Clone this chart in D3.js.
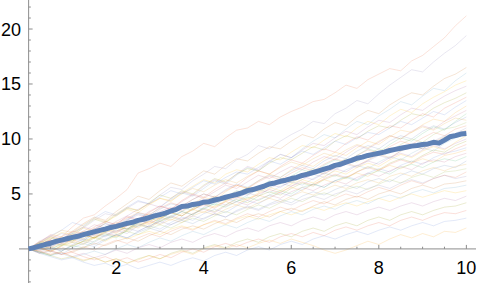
<!DOCTYPE html>
<html>
<head>
<meta charset="utf-8">
<script src="https://cdn.jsdelivr.net/npm/d3@7"></script>
<style>
  body { margin: 0; background: #fff; }
  text { font-family: "Liberation Sans", Arial, sans-serif; }
</style>
</head>
<body>
<div id="vis"></div>
<script>
// frame
const WIDTH = 482;
const HEIGHT = 289;
const T_MAX = 10;

// faint sample paths, one value every 0.25 from t = 0 to 10
const PATHS = [
  [0,0.6,1.3,1.1,2.0,2.8,3.1,3.9,4.6,5.4,6.9,7.3,7.8,7.5,8.4,8.9,9.6,9.3,10.1,10.8,11.0,11.6,11.3,12.0,12.5,12.9,13.4,13.6,14.2,14.9,14.6,15.4,15.9,16.4,16.2,17.1,17.6,18.4,19.2,20.3,21.2],
  [0,0.3,0.9,1.4,1.2,1.9,2.6,3.2,3.0,3.7,4.3,4.1,4.9,5.6,5.4,6.2,6.8,7.5,7.3,8.1,8.6,9.4,9.1,9.8,10.4,10.9,11.6,11.4,12.3,12.8,13.5,13.2,14.1,14.9,15.6,16.3,16.1,17.0,17.8,18.5,19.4],
  [0,0.5,1.1,0.8,1.6,2.3,2.9,2.6,3.4,4.1,4.8,4.5,5.3,6.0,5.7,6.4,7.1,6.8,7.6,8.2,8.0,8.7,9.3,9.1,9.8,10.4,10.1,10.9,11.5,11.2,12.0,12.6,12.3,13.1,13.7,14.2,14.0,14.8,15.5,15.9,16.5],
  [0,0.2,-0.1,0.5,0.9,0.7,1.5,2.1,1.9,2.6,3.3,3.0,3.8,4.5,5.1,4.8,5.5,6.2,5.9,6.7,7.4,7.1,7.9,8.6,8.3,9.1,9.8,10.4,10.1,10.9,11.6,11.3,12.1,12.7,13.4,13.1,13.9,14.6,14.4,15.3,16.0],
  [0,0.4,0.9,1.5,1.3,1.9,1.6,2.4,3.0,3.6,3.3,4.0,4.6,4.3,5.1,5.7,6.3,6.0,6.8,7.2,7.0,7.7,8.3,8.1,8.8,9.4,9.2,9.9,10.5,10.2,11.0,11.6,11.3,12.1,12.7,12.4,13.2,13.8,14.3,14.9,15.3],
  [0,0.3,0.1,0.7,1.3,1.1,1.8,2.5,2.2,3.0,3.6,4.1,3.8,4.6,5.2,4.9,5.7,6.3,6.0,6.8,7.5,7.2,8.0,8.6,8.3,9.0,9.6,9.4,10.1,10.7,10.4,11.1,11.7,11.5,12.2,12.8,12.6,13.3,13.9,14.4,14.8],
  [0,0.5,1.0,0.8,1.4,2.0,2.7,2.4,3.1,3.7,3.5,4.2,4.9,4.6,5.3,5.0,5.8,6.4,6.1,6.8,7.3,7.1,7.8,8.3,8.1,8.7,9.3,9.0,9.8,10.3,10.0,10.7,11.2,11.0,11.7,12.3,12.1,12.8,13.3,13.7,14.2],
  [0,-0.2,0.3,0.8,0.6,1.2,1.9,1.6,2.3,2.9,2.6,3.3,3.9,3.6,4.4,5.0,4.7,5.4,6.0,5.7,6.5,7.1,6.8,7.5,8.1,7.8,8.5,9.1,8.8,9.6,10.2,9.9,10.6,11.2,11.0,11.7,12.3,12.0,12.8,13.3,13.8],
  [0,0.6,1.2,1.7,2.4,2.1,2.8,3.4,3.1,3.8,4.4,4.1,4.7,5.3,5.0,5.6,6.2,5.9,6.5,7.0,6.8,7.4,8.0,7.7,8.3,8.9,8.6,9.2,9.8,9.5,10.1,10.6,10.4,11.0,11.6,11.3,11.9,12.5,12.2,12.9,13.5],
  [0,0.1,-0.3,0.3,0.8,0.5,1.1,1.7,1.4,2.1,2.7,2.4,3.1,3.7,3.4,4.1,4.7,4.4,5.2,5.8,5.5,6.2,6.8,6.5,7.2,7.8,7.5,8.2,8.8,8.5,9.2,9.8,9.5,10.2,10.8,10.6,11.3,11.8,11.6,12.4,13.0],
  [0,0.4,0.8,0.5,1.1,1.6,2.2,1.9,2.5,3.0,2.7,3.4,3.9,3.6,4.3,4.9,4.6,5.2,5.8,5.5,6.1,6.7,6.4,7.0,7.5,7.2,7.9,8.4,8.1,8.8,9.4,9.1,9.7,10.3,10.0,10.7,11.2,10.9,11.6,12.1,12.6],
  [0,-0.3,-0.6,-0.2,0.3,0.1,0.7,1.3,1.0,1.7,2.3,2.0,2.7,3.3,3.0,3.7,4.3,4.0,4.7,5.3,5.0,5.6,6.2,5.9,6.6,7.2,6.9,7.6,8.1,7.8,8.5,9.1,8.8,9.5,10.1,9.8,10.5,11.1,10.8,11.6,12.3],
  [0,0.5,0.3,0.9,1.4,1.2,1.8,2.3,2.1,2.7,3.2,2.9,3.6,4.1,3.9,4.5,5.0,4.7,5.4,5.9,5.6,6.2,6.7,6.5,7.1,7.6,7.3,8.0,8.5,8.2,8.9,9.4,9.1,9.8,10.3,10.0,10.7,11.2,10.9,11.5,12.0],
  [0,0.6,1.1,1.7,1.5,2.2,2.8,2.5,3.2,3.8,3.5,4.1,4.6,4.4,5.0,5.5,5.2,5.8,6.3,6.0,6.6,7.1,6.8,7.4,7.9,7.6,8.2,8.7,8.4,9.0,9.5,9.2,9.8,10.3,10.0,10.6,11.1,10.8,11.4,11.9,11.7],
  [0,0.2,0.6,0.3,0.9,1.3,1.0,1.6,2.1,1.8,2.5,3.0,2.7,3.3,3.8,3.5,4.2,4.7,4.4,5.1,5.6,5.3,5.9,6.4,6.1,6.8,7.3,7.0,7.7,8.2,7.9,8.6,9.1,8.8,9.5,10.0,9.7,10.4,10.9,11.1,11.5],
  [0,0.7,0.5,1.1,1.6,1.4,2.0,2.5,2.2,2.8,3.3,3.1,3.7,4.2,3.9,4.5,5.0,4.7,5.3,5.8,5.5,6.1,6.6,6.3,6.9,7.4,7.1,7.7,8.2,7.9,8.5,9.0,8.7,9.3,9.8,9.5,10.1,10.6,10.3,10.9,11.2],
  [0,-0.3,0.1,-0.2,0.4,0.9,0.6,1.2,1.7,1.4,2.1,2.6,2.3,2.9,3.4,3.1,3.8,4.3,4.0,4.6,5.1,4.8,5.5,6.0,5.7,6.3,6.8,6.5,7.2,7.7,7.4,8.0,8.5,8.2,8.9,9.4,9.1,9.8,10.3,10.5,11.0],
  [0,0.3,0.8,0.6,1.2,1.6,1.3,1.9,2.4,2.1,2.7,3.2,2.9,3.5,4.0,3.7,4.3,4.8,4.5,5.1,5.5,5.2,5.8,6.3,6.0,6.6,7.1,6.8,7.4,7.8,7.5,8.1,8.6,8.3,8.9,9.4,9.1,9.7,10.2,10.4,10.8],
  [0,0.5,0.2,0.7,1.1,0.9,1.5,1.2,1.8,2.3,2.0,2.6,3.1,2.8,3.4,3.9,3.6,4.2,4.6,4.3,4.9,5.4,5.1,5.7,6.1,5.8,6.4,6.9,6.6,7.2,7.6,7.3,7.9,8.4,8.1,8.7,9.2,8.9,9.6,10.1,10.5],
  [0,0.2,0.5,0.9,0.7,1.3,1.0,1.6,2.1,1.8,2.4,2.2,2.8,3.3,3.0,3.6,4.1,3.8,4.4,4.8,4.5,5.1,5.6,5.3,5.9,6.3,6.0,6.6,7.1,6.8,7.4,7.8,7.5,8.1,8.6,8.3,8.9,9.3,9.0,9.7,10.3],
  [0,0.7,1.2,0.9,1.5,2.0,1.7,2.3,2.0,2.6,3.1,2.8,3.4,3.8,3.5,4.1,4.5,4.2,4.8,5.2,4.9,5.5,5.9,5.6,6.2,6.6,6.3,6.9,7.3,7.0,7.6,8.0,7.7,8.3,8.7,8.4,9.0,9.4,9.1,9.6,10.0],
  [0,0.1,-0.2,0.3,0.6,0.4,1.0,1.4,1.1,1.7,2.2,1.9,2.5,2.9,2.6,3.2,3.7,3.4,4.0,4.5,4.2,4.8,5.2,4.9,5.5,6.0,5.7,6.3,6.7,6.4,7.0,7.5,7.2,7.8,8.2,7.9,8.5,9.0,8.8,9.4,9.8],
  [0,0.4,0.8,0.6,1.1,1.5,1.2,1.8,1.5,2.1,2.6,2.3,2.8,3.3,3.0,3.6,4.0,3.7,4.3,4.7,4.4,5.0,5.4,5.1,5.7,6.1,5.8,6.4,6.8,6.5,7.0,7.4,7.1,7.7,8.1,7.8,8.4,8.8,8.6,9.1,9.5],
  [0,-0.4,-0.2,-0.5,0.1,0.5,0.2,0.8,1.3,1.0,1.6,2.1,1.8,2.4,2.9,2.6,3.2,3.6,3.3,3.9,4.4,4.1,4.7,5.1,4.8,5.4,5.9,5.6,6.2,6.6,6.3,6.9,7.3,7.0,7.6,8.0,7.7,8.3,8.7,8.9,9.2],
  [0,0.5,0.3,0.8,1.2,0.9,1.5,1.9,1.6,2.2,1.9,2.5,2.9,2.6,3.2,3.6,3.3,3.9,4.3,4.0,4.6,4.9,4.6,5.2,5.6,5.3,5.9,6.3,6.0,6.5,6.9,6.6,7.2,7.6,7.3,7.8,8.2,7.9,8.5,8.7,9.0],
  [0,0.2,0.6,0.4,0.9,1.3,1.0,1.5,1.2,1.8,2.3,2.0,2.6,3.0,2.7,3.2,3.6,3.3,3.9,4.3,4.0,4.5,4.9,4.6,5.2,5.6,5.3,5.8,6.2,5.9,6.5,6.9,6.6,7.1,7.5,7.2,7.8,8.1,7.9,8.4,8.7],
  [0,0.6,0.3,0.9,0.7,1.3,1.8,1.5,2.0,1.8,2.4,2.8,2.5,3.0,3.4,3.1,3.7,4.1,3.8,4.3,4.7,4.4,4.9,5.3,5.0,5.6,5.9,5.6,6.2,6.5,6.2,6.8,7.1,6.8,7.4,7.7,7.4,7.9,8.2,8.0,8.4],
  [0,-0.1,0.2,-0.2,0.3,0.7,0.4,0.9,1.3,1.0,1.5,1.9,1.6,2.2,2.6,2.3,2.8,3.2,2.9,3.5,3.9,3.6,4.1,4.5,4.2,4.8,5.2,4.9,5.4,5.8,5.5,6.1,6.4,6.1,6.7,7.1,6.8,7.3,7.6,7.4,8.0],
  [0,0.3,0.7,1.1,0.8,1.3,1.0,1.5,1.9,1.6,2.1,2.5,2.2,2.7,2.4,3.0,3.4,3.1,3.6,4.0,3.7,4.2,4.6,4.3,4.8,5.2,4.9,5.4,5.8,5.5,6.0,6.3,6.0,6.6,6.9,6.6,7.1,7.4,7.1,7.5,7.7],
  [0,0.3,0.0,0.4,0.2,0.7,1.1,0.8,1.3,1.6,1.3,1.8,2.2,1.9,2.4,2.8,2.5,3.0,3.4,3.1,3.6,4.0,3.7,4.2,4.6,4.3,4.8,5.1,4.8,5.4,5.7,5.4,5.9,6.3,6.0,6.5,6.8,6.5,7.0,7.1,7.3],
  [0,-0.4,-0.1,-0.5,-0.2,0.2,-0.1,0.4,0.8,0.5,1.0,1.4,1.1,1.6,2.0,1.7,2.2,2.6,2.3,2.8,3.2,2.9,3.4,3.8,3.5,4.0,4.4,4.1,4.6,5.0,4.7,5.2,5.6,5.3,5.8,6.2,5.9,6.4,6.7,6.5,7.0],
  [0,0.4,0.2,0.7,1.0,0.8,1.3,1.1,1.6,1.9,1.6,2.1,2.5,2.2,2.7,3.0,2.7,3.2,2.9,3.4,3.8,3.5,4.0,4.3,4.0,4.5,4.8,4.5,5.0,5.3,5.0,5.5,5.8,5.5,6.0,6.3,6.0,6.4,6.7,6.4,6.6],
  [0,0.1,-0.2,0.2,-0.3,0.1,0.5,0.3,0.7,1.0,0.7,1.2,1.6,1.3,1.8,2.1,1.8,2.3,2.7,2.4,2.9,3.2,2.9,3.4,3.7,3.4,3.9,4.3,4.0,4.5,4.8,4.5,5.0,5.3,5.0,5.5,5.8,5.5,5.9,6.0,6.2],
  [0,-0.3,-0.6,-0.4,-0.8,-0.5,-0.2,-0.5,0.0,0.4,0.1,0.6,1.0,0.7,1.2,1.6,1.3,1.8,2.2,1.9,2.4,2.8,2.5,3.0,3.4,3.1,3.6,3.9,3.6,4.1,4.4,4.1,4.6,4.9,4.6,5.1,5.4,5.1,5.5,5.6,5.8],
  [0,0.3,0.1,0.5,0.3,0.7,1.0,0.7,1.2,0.9,1.3,1.6,1.3,1.8,2.1,1.8,2.2,2.5,2.2,2.7,3.0,2.7,3.1,3.4,3.1,3.5,3.8,3.5,3.9,4.2,3.9,4.3,4.6,4.3,4.7,5.0,4.7,5.0,5.3,5.1,5.3],
  [0,-0.2,-0.5,-0.3,-0.7,-0.4,-0.8,-0.5,-0.1,-0.4,0.1,0.4,0.1,0.6,0.9,0.6,1.1,1.4,1.1,1.6,1.9,1.6,2.1,2.4,2.1,2.6,2.9,2.6,3.1,3.4,3.1,3.5,3.8,3.5,3.9,4.2,3.9,4.3,4.6,4.4,4.8],
  [0,-0.3,-0.6,-0.9,-0.7,-1.1,-0.8,-1.2,-0.9,-1.3,-0.9,-0.6,-0.9,-0.4,-0.1,-0.4,0.1,0.4,0.1,0.6,0.9,0.6,1.1,1.4,1.1,1.6,1.9,1.6,2.1,2.4,2.1,2.6,2.9,2.6,3.1,3.4,3.1,3.5,3.8,3.9,4.2],
  [0,0.1,-0.2,-0.5,-0.3,-0.7,-1.0,-0.7,-1.1,-0.8,-1.2,-0.9,-0.5,-0.8,-0.3,0.0,-0.3,0.2,0.5,0.2,0.6,0.9,0.6,1.1,1.4,1.1,1.5,1.2,1.7,2.0,1.7,2.1,2.4,2.1,2.6,2.9,2.6,3.0,3.3,3.2,3.5],
  [0,-0.4,-0.7,-1.0,-0.8,-1.2,-1.5,-1.3,-1.7,-1.4,-1.8,-1.5,-1.2,-1.5,-1.1,-0.8,-1.1,-0.6,-0.3,-0.6,-0.1,0.2,-0.1,0.4,0.7,0.4,0.9,1.2,0.9,1.3,1.6,1.3,1.7,2.0,1.7,2.1,2.4,2.1,2.5,2.6,2.8],
  [0,-0.2,-0.5,-0.3,-0.7,-1.0,-0.8,-1.2,-0.9,-1.3,-1.0,-0.6,-0.9,-0.5,-0.2,-0.5,0.0,0.3,0.0,0.4,0.1,0.5,0.8,0.5,0.9,0.6,0.3,-0.1,-0.4,-0.1,0.3,0.7,0.4,0.9,1.3,1.0,1.4,1.1,1.6,1.5,1.9]
];

// thick mean curve, one value every 0.125
const MEAN = [0,0.12,0.25,0.4,0.52,0.68,0.8,0.92,1.05,1.15,1.3,1.42,1.55,1.68,1.8,1.95,2.05,2.18,2.32,2.42,
  2.6,2.7,2.85,3.0,3.12,3.25,3.45,3.6,3.85,3.9,4.05,4.1,4.25,4.3,4.45,4.55,4.7,4.82,4.95,5.1,
  5.3,5.4,5.55,5.7,5.9,6.0,6.15,6.25,6.4,6.5,6.68,6.8,6.95,7.1,7.25,7.4,7.6,7.7,7.9,8.05,
  8.25,8.35,8.5,8.6,8.7,8.8,8.95,9.05,9.15,9.25,9.35,9.4,9.5,9.55,9.7,9.62,9.9,10.2,10.3,10.45,10.5];

// tick labels
const X_TICKS = [2, 4, 6, 8, 10];
const Y_TICKS = [5, 10, 15, 20];

// Mathematica style default colours (started on the reds so the top path is pinkish)
const PALETTE = ["#EB6235", "#8778B3", "#C56E1A", "#5D9EC7", "#FFBF00", "#A5609D",
  "#929600", "#E95536", "#6685D9", "#F89F13", "#BC5B80", "#47B66D", "#5E81B5", "#E19C24", "#8FB032"];

const X_SCALE = d3.scaleLinear().domain([-0.22, 10.22]).range([19, 476]);
const Y_SCALE = d3.scaleLinear().domain([-3.1, 22.64]).range([283, 0]);

const FRAME = d3.select("#vis")
  .append("svg")
    .attr("width", WIDTH)
    .attr("height", HEIGHT);

const line = d3.line()
  .x((d) => X_SCALE(d[0]))
  .y((d) => Y_SCALE(d[1]));

// pair each value with its time, spread evenly over [0, T_MAX]
const toPoints = (arr) => arr.map((v, i) => [i * T_MAX / (arr.length - 1), v]);

// faint paths
FRAME.append("g")
  .selectAll("path")
  .data(PATHS)
  .enter()
  .append("path")
    .attr("d", (p) => line(toPoints(p)))
    .attr("fill", "none")
    .attr("stroke", (p, i) => PALETTE[i % PALETTE.length])
    .attr("stroke-width", 1)
    .attr("stroke-opacity", 0.18);

// axes, drawn by hand like Mathematica (ticks pointing inward)
const AX_COLOR = "#8c8c8c";
const xAxisY = Y_SCALE(0);
const yAxisX = X_SCALE(0);

const axes = FRAME.append("g");
axes.append("line")
  .attr("x1", X_SCALE.range()[0]).attr("x2", X_SCALE.range()[1])
  .attr("y1", xAxisY).attr("y2", xAxisY)
  .attr("stroke", AX_COLOR).attr("stroke-width", 1);
axes.append("line")
  .attr("x1", yAxisX).attr("x2", yAxisX)
  .attr("y1", Y_SCALE.range()[0]).attr("y2", Y_SCALE.range()[1])
  .attr("stroke", AX_COLOR).attr("stroke-width", 1);

// x ticks every 0.5, major at labels
axes.selectAll(".xt")
  .data(d3.range(0.5, 10.01, 0.5))
  .enter().append("line")
    .attr("x1", (d) => X_SCALE(d)).attr("x2", (d) => X_SCALE(d))
    .attr("y1", xAxisY)
    .attr("y2", (d) => xAxisY - (X_TICKS.includes(d) ? 4 : 2.2))
    .attr("stroke", AX_COLOR);

// y ticks every 1
axes.selectAll(".yt")
  .data(d3.range(-3, 22.01, 1).filter((d) => d !== 0))
  .enter().append("line")
    .attr("y1", (d) => Y_SCALE(d)).attr("y2", (d) => Y_SCALE(d))
    .attr("x1", yAxisX)
    .attr("x2", (d) => yAxisX + (Y_TICKS.includes(d) ? 4 : 2.2))
    .attr("stroke", AX_COLOR);

// mean curve on top
FRAME.append("path")
  .attr("d", line(toPoints(MEAN)))
  .attr("fill", "none")
  .attr("stroke", "#5E81B5")
  .attr("stroke-width", 5)
  .attr("stroke-linejoin", "round");

// labels
axes.selectAll(".xl")
  .data(X_TICKS)
  .enter().append("text")
    .attr("x", (d) => X_SCALE(d))
    .attr("y", 274)
    .attr("text-anchor", "middle")
    .attr("font-size", "18px")
    .attr("fill", "#000")
    .text((d) => d);

axes.selectAll(".yl")
  .data(Y_TICKS)
  .enter().append("text")
    .attr("x", 21)
    .attr("y", (d) => Y_SCALE(d) + 6.5)
    .attr("text-anchor", "end")
    .attr("font-size", "18px")
    .attr("fill", "#000")
    .text((d) => d);
</script>
</body>
</html>
